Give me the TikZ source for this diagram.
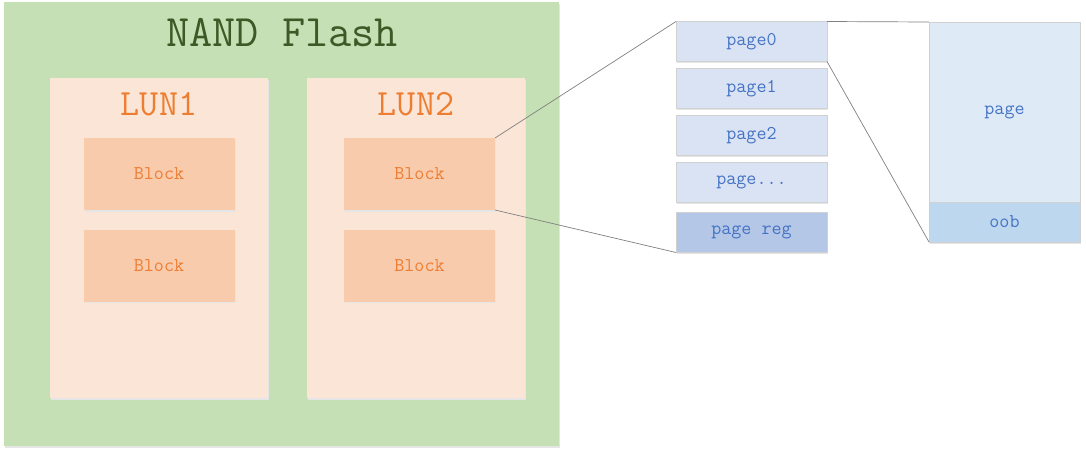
\documentclass[tikz,border=0pt]{standalone}
\usepackage{fontspec}
\usetikzlibrary{positioning, shadows}
\definecolor{flashgreen}{HTML}{C5E0B4}
\definecolor{flashtext}{HTML}{3B5A26}
\definecolor{lunfill}{HTML}{FBE5D6}
\definecolor{blockfill}{HTML}{F8CBAD}
\definecolor{orangetext}{HTML}{ED7D31}
\definecolor{pagefill}{HTML}{DAE3F3}
\definecolor{regfill}{HTML}{B4C7E7}
\definecolor{bigfill}{HTML}{DEEBF7}
\definecolor{oobfill}{HTML}{BDD7EE}
\definecolor{bluetext}{HTML}{4472C4}
\tikzstyle{box} = [rectangle, inner sep=0pt, outer sep=0pt, font=\ttfamily]
\tikzstyle{soft} = [general shadow={fill=black!10, shadow xshift=1pt, shadow yshift=-1.5pt}]
\tikzstyle{lun} = [box, soft, fill=lunfill, minimum width=218pt, minimum height=320pt]
\tikzstyle{block} = [box, soft, fill=blockfill, text=orangetext, minimum width=151pt, minimum height=72pt, font=\ttfamily\fontsize{19.5}{19.5}\selectfont]
\tikzstyle{page} = [box, soft, draw=black!18, line width=0.8pt, fill=pagefill, text=bluetext, minimum width=151pt, minimum height=40pt, font=\ttfamily\fontsize{19.5}{19.5}\selectfont]
\tikzstyle{link} = [draw=black!50, line width=0.7pt]

\begin{document}
\begin{tikzpicture}[x=1pt, y=-1pt, node distance=7pt]
    \useasboundingbox (0,0) rectangle (1086,453);

    % Flash.
    \node (flash) [box, soft, fill=flashgreen, minimum width=555pt, minimum height=444pt] at (281.5,224) {};
    \node (flash title) [text=flashtext, font=\ttfamily\fontsize{45}{45}\selectfont] at (282,33) {NAND Flash};

    % LUNs and blocks.
    \foreach \i/\x/\b in {1/159/159, 2/416/419.5} {%
        \node (lun \i) [lun] at (\x,238) {};
        \node (lun title \i) [text=orangetext, font=\ttfamily\fontsize{37}{37}\selectfont] at (\x,104) {LUN\i};
        \node (block \i1) [block] at (\b,174) {Block};
        \node (block \i2) [block] at (\b,265.5) {Block};
    }

    % Pages.
    \node (page 0) [page] at (751.5,41.5) {page0};
    \node (page 1) [page, below=of page 0] {page1};
    \node (page 2) [page, below=of page 1] {page2};
    \node (page 3) [page, below=of page 2] {page...};
    \node (page reg) [page, fill=regfill, below=10pt of page 3] {page reg};

    % One page.
    \node (page big) [page, fill=bigfill, minimum height=180pt] at (1004.5,112) {page};
    \node (oob) [page, fill=oobfill, below=0pt of page big] {oob};

    % Zoom lines.
    \draw [link] (block 21.north east) -- (page 0.north west);
    \draw [link] (block 21.south east) -- (page reg.south west);
    \draw [link] (page 0.north east) -- (page big.north west);
    \draw [link] (page 0.south east) -- (oob.south west);
\end{tikzpicture}
\end{document}
